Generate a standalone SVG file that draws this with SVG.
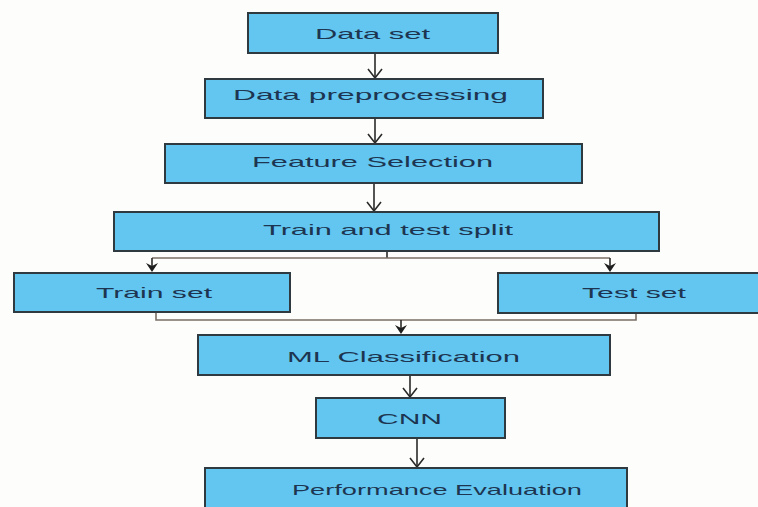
<svg xmlns="http://www.w3.org/2000/svg" width="758" height="507" viewBox="0 0 758 507">
<defs>
<style>
.box{fill:#62c6f0;stroke:#2e3a40;stroke-width:2}
.lbl{font-family:"Liberation Sans",Arial,sans-serif;font-size:15px;fill:#1d3550;text-anchor:start}
.ln{fill:none;stroke:#2a2a2a;stroke-width:1.6}
.thin{fill:none;stroke:#7a6e66;stroke-width:1.6}
.chev{fill:none;stroke:#2a2a2a;stroke-width:1.6}
.head{fill:#1e1e1e;stroke:none}
</style>
</defs>
<rect width="758" height="507" fill="#fdfdfb"/>
<g id="connectors">
<!-- Data set -> Data preprocessing -->
<line class="ln" x1="375" y1="53" x2="375" y2="78"/>
<path class="chev" d="M368,69 L375,78 L382,69"/>
<!-- preprocessing -> feature -->
<line class="ln" x1="375" y1="118" x2="375" y2="143"/>
<path class="chev" d="M368,134 L375,143 L382,134"/>
<!-- feature -> split -->
<line class="ln" x1="374" y1="183" x2="374" y2="211"/>
<path class="chev" d="M367,202 L374,211 L381,202"/>
<!-- split fork -->
<line class="ln" x1="387" y1="251" x2="387" y2="258"/>
<path class="thin" d="M152,258 L610,258"/>
<line class="ln" x1="152" y1="258" x2="152" y2="270"/>
<path class="head" d="M146,263 L152,272 L158,263 L152,266 Z"/>
<line class="ln" x1="610" y1="258" x2="610" y2="270"/>
<path class="head" d="M604,263 L610,272 L616,263 L610,266 Z"/>
<!-- join -->
<path class="thin" d="M156,312 L156,320 L636,320 L636,313"/>
<line class="ln" x1="401" y1="320" x2="401" y2="332"/>
<path class="head" d="M395,325 L401,334 L407,325 L401,328 Z"/>
<!-- ML -> CNN -->
<line class="ln" x1="410" y1="375" x2="410" y2="397"/>
<path class="chev" d="M403,388 L410,397 L417,388"/>
<!-- CNN -> Performance -->
<line class="ln" x1="417" y1="438" x2="417" y2="467"/>
<path class="chev" d="M410,458 L417,467 L424,458"/>
</g>
<g id="n-dataset">
<rect class="box" x="248" y="13" width="250" height="40"/>
<text class="lbl" x="315" y="39" textLength="115" lengthAdjust="spacingAndGlyphs">Data set</text>
</g>
<g id="n-preprocessing">
<rect class="box" x="205" y="79" width="338" height="39"/>
<text class="lbl" x="233" y="100" textLength="275" lengthAdjust="spacingAndGlyphs">Data preprocessing</text>
</g>
<g id="n-feature">
<rect class="box" x="165" y="144" width="417" height="39"/>
<text class="lbl" x="252" y="167" textLength="241" lengthAdjust="spacingAndGlyphs">Feature Selection</text>
</g>
<g id="n-split">
<rect class="box" x="114" y="212" width="545" height="39"/>
<text class="lbl" x="263" y="235" textLength="250" lengthAdjust="spacingAndGlyphs">Train and test split</text>
</g>
<g id="n-train">
<rect class="box" x="14" y="273" width="276" height="39"/>
<text class="lbl" x="96" y="298" textLength="116" lengthAdjust="spacingAndGlyphs">Train set</text>
</g>
<g id="n-test">
<rect class="box" x="498" y="273" width="262" height="40"/>
<text class="lbl" x="582" y="298" textLength="104" lengthAdjust="spacingAndGlyphs">Test set</text>
</g>
<g id="n-ml">
<rect class="box" x="198" y="335" width="412" height="40"/>
<text class="lbl" x="287" y="362" textLength="233" lengthAdjust="spacingAndGlyphs">ML Classification</text>
</g>
<g id="n-cnn">
<rect class="box" x="316" y="398" width="189" height="40"/>
<text class="lbl" x="377" y="424" textLength="65" lengthAdjust="spacingAndGlyphs">CNN</text>
</g>
<g id="n-performance">
<rect class="box" x="205" y="468" width="422" height="42"/>
<text class="lbl" x="292" y="495" textLength="290" lengthAdjust="spacingAndGlyphs">Performance Evaluation</text>
</g>
</svg>
